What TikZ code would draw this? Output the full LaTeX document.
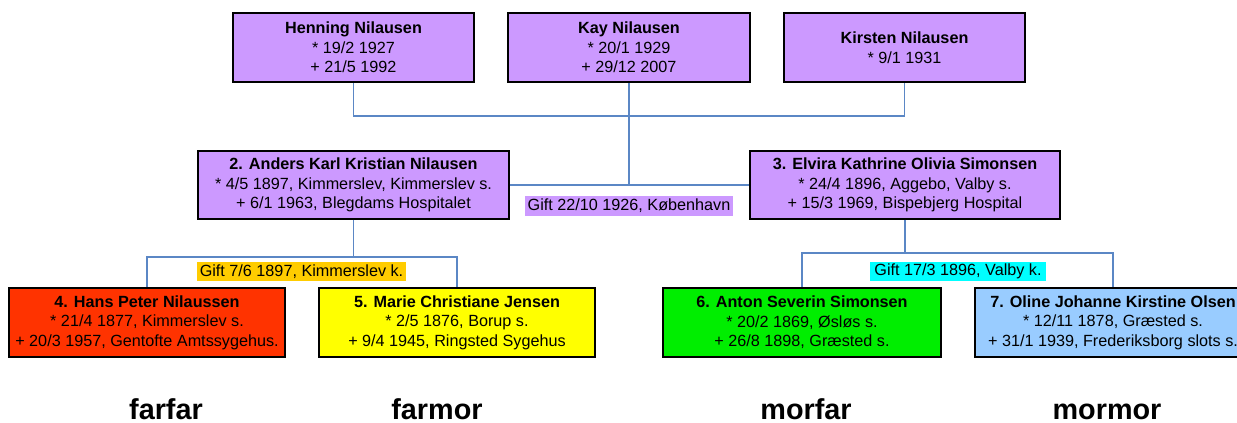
\documentclass[tikz,border=0pt]{standalone}
\usepackage{fontspec}
\setmainfont{Liberation Sans}
\definecolor{boxpurple}{HTML}{CC99FF}
\definecolor{linkblue}{HTML}{5B87C5}
\definecolor{farred}{HTML}{FF3300}
\definecolor{faryellow}{HTML}{FFFF00}
\definecolor{morgreen}{HTML}{00EE00}
\definecolor{morblue}{HTML}{99CCFF}
\definecolor{giftorange}{HTML}{FFCC00}
\definecolor{giftcyan}{HTML}{00FFFF}
\begin{document}
\begin{tikzpicture}[x=0.5pt, y=-0.5pt,
    person/.style={draw=black, line width=0.8pt, align=center, inner sep=0pt, minimum height=34.5pt, font=\fontsize{8.1}{9.75}\selectfont},
    gift/.style={inner sep=0pt, minimum height=10pt, font=\fontsize{8.1}{9.75}\selectfont},
    link/.style={draw=linkblue, line width=0.7pt},
    role/.style={anchor=base, font=\fontsize{14.4}{17}\selectfont\bfseries}]
        \useasboundingbox (0, 0) rectangle (1237, 423);

        \node (henning) at (353.5, 47.5) [person, fill=boxpurple, minimum width=120.5pt] {\textbf{Henning Nilausen}\\{*} 19/2 1927\\+ 21/5 1992};
        \node (kay) at (629, 47.5) [person, fill=boxpurple, minimum width=121pt] {\textbf{Kay Nilausen}\\{*} 20/1 1929\\+ 29/12 2007};
        \node (kirsten) at (904.5, 47.5) [person, fill=boxpurple, minimum width=120.5pt] {\textbf{Kirsten Nilausen}\\{*} 9/1 1931};

        \node (anders) at (353.5, 185) [person, fill=boxpurple, minimum width=155.5pt, minimum height=34pt] {\textbf{2. Anders Karl Kristian Nilausen}\\{*} 4/5 1897, Kimmerslev, Kimmerslev s.\\+ 6/1 1963, Blegdams Hospitalet};
        \node (elvira) at (905, 185) [person, fill=boxpurple, minimum width=155pt, minimum height=34pt] {\textbf{3. Elvira Kathrine Olivia Simonsen}\\{*} 24/4 1896, Aggebo, Valby s.\\+ 15/3 1969, Bispebjerg Hospital};

        \node (hans) at (147, 322.5) [person, fill=farred, minimum width=138pt] {\textbf{4. Hans Peter Nilaussen}\\{*} 21/4 1877, Kimmerslev s.\\+ 20/3 1957, Gentofte Amtssygehus.};
        \node (marie) at (457, 322.5) [person, fill=faryellow, minimum width=138pt] {\textbf{5. Marie Christiane Jensen}\\{*} 2/5 1876, Borup s.\\+ 9/4 1945, Ringsted Sygehus};
        \node (anton) at (802, 322.5) [person, fill=morgreen, minimum width=139pt] {\textbf{6. Anton Severin Simonsen}\\{*} 20/2 1869, Øsløs s.\\+ 26/8 1898, Græsted s.};
        \node (oline) at (1113, 322.5) [person, fill=morblue, minimum width=138pt] {\textbf{7. Oline Johanne Kirstine Olsen}\\{*} 12/11 1878, Græsted s.\\+ 31/1 1939, Frederiksborg slots s.};

        \coordinate (kids) at (629, 116);
        \coordinate (farbar) at (353.5, 257);
        \coordinate (morbar) at (905, 253);

        \draw [link] (henning.south) |- (kids) -| (kirsten.south);
        \draw [link] (kay.south) -- (kay.south |- anders.east);
        \draw [link] (anders) -- (elvira);
        \draw [link] (anders.south) -- (farbar);
        \draw [link] (hans.north) |- (farbar) -| (marie.north);
        \draw [link] (elvira.south) -- (morbar);
        \draw [link] (anton.north) |- (morbar) -| (oline.north);

        \node (gift2210) at (629, 206) [gift, fill=boxpurple, minimum width=104pt] {Gift 22/10 1926, København};
        \node (gift76) at (301.5, 271.5) [gift, fill=giftorange, minimum width=104.5pt, minimum height=9.5pt] {Gift 7/6 1897, Kimmerslev k.};
        \node (gift173) at (958, 271.5) [gift, fill=giftcyan, minimum width=88pt, minimum height=9.5pt] {Gift 17/3 1896, Valby k.};

        \node (farfar) at (166, 419) [role] {farfar};
        \node (farmor) at (437, 419) [role] {farmor};
        \node (morfar) at (806, 419) [role] {morfar};
        \node (mormor) at (1107, 419) [role] {mormor};
    \end{tikzpicture}
\end{document}
